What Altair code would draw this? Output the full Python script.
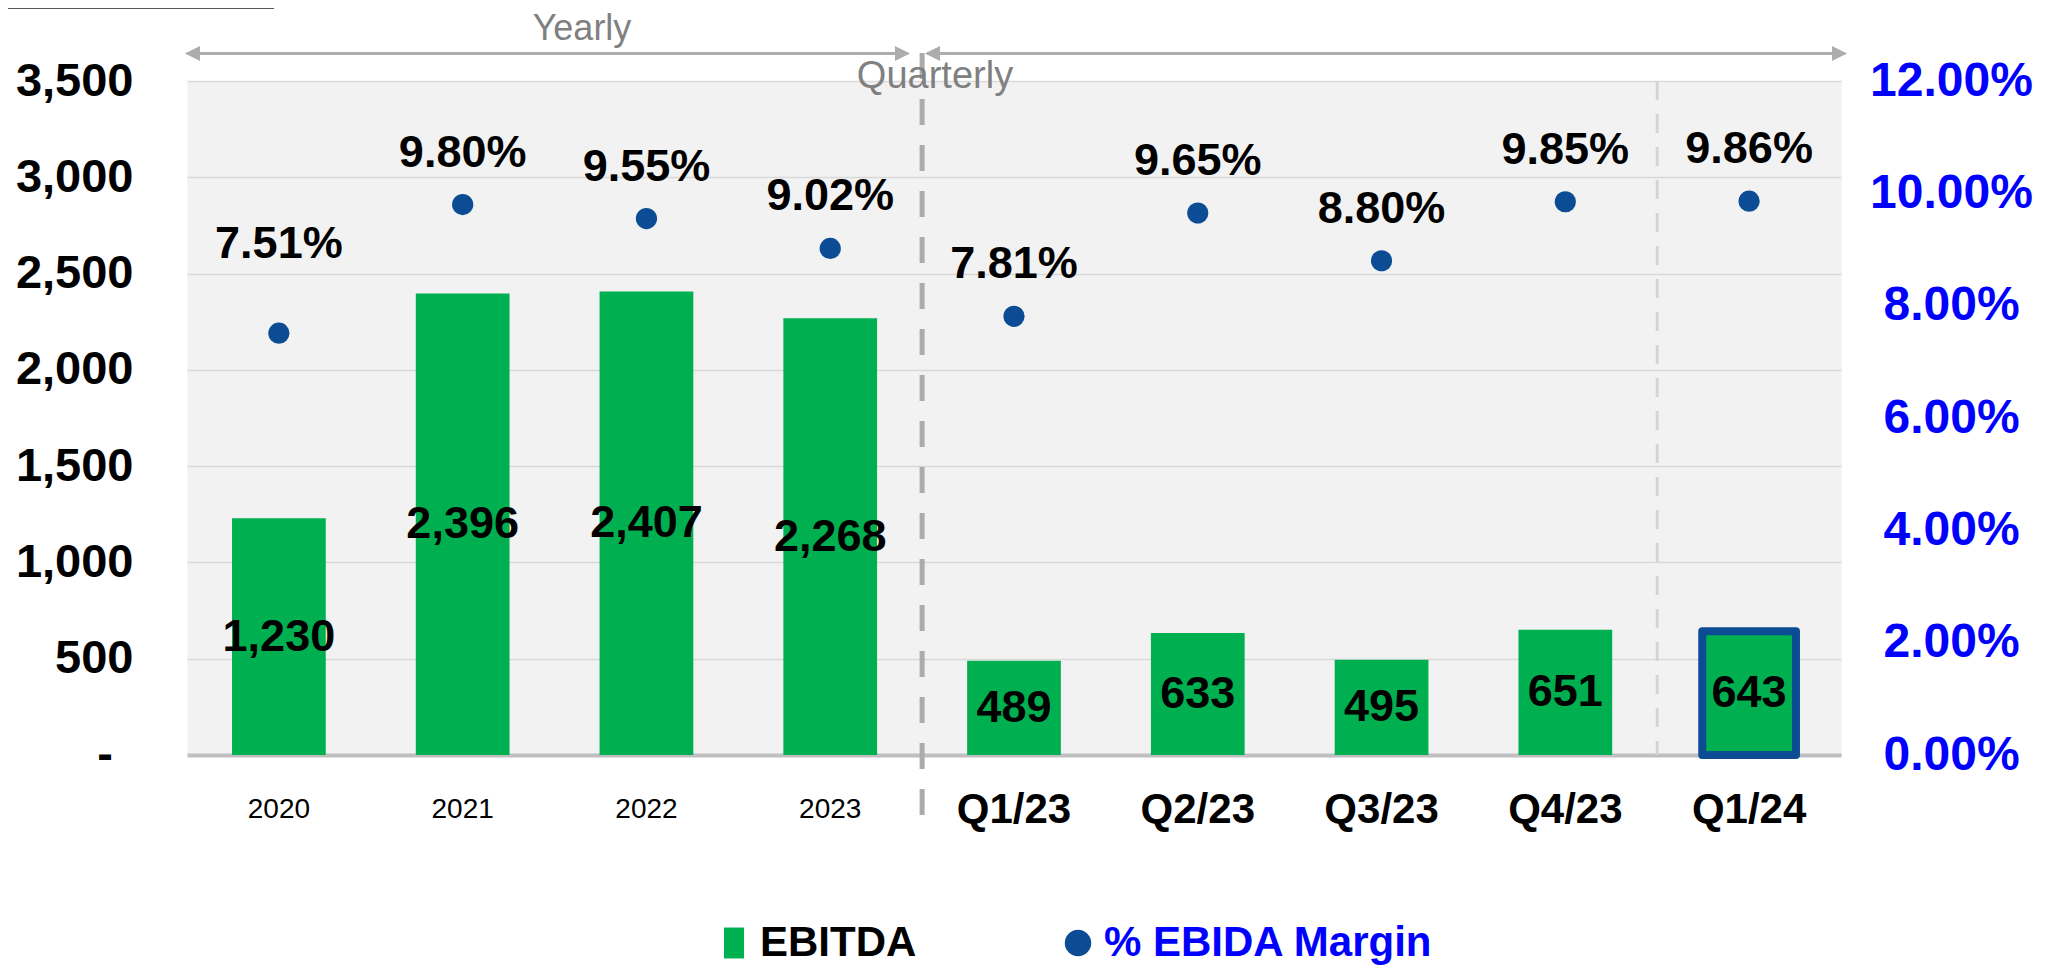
import altair as alt
import pandas as pd

# ---- data ----
categories = ["2020", "2021", "2022", "2023", "Q1/23", "Q2/23", "Q3/23", "Q4/23", "Q1/24"]
ebitda = [1230, 2396, 2407, 2268, 489, 633, 495, 651, 643]
margin_pct = [7.51, 9.80, 9.55, 9.02, 7.81, 9.65, 8.80, 9.85, 9.86]
left_ticks = [0, 500, 1000, 1500, 2000, 2500, 3000, 3500]
right_ticks_pct = [0, 2, 4, 6, 8, 10, 12]
zero_label = "-"
series_names = ["EBITDA", "% EBIDA Margin"]
series_colors = ["#00B050", "#0B4C94"]
period_names = ["Yearly", "Quarterly"]
first_quarter = "Q1/23"
highlight = "Q1/24"

df = pd.DataFrame({"category": categories, "ebitda": ebitda, "margin_pct": margin_pct})
one = pd.DataFrame({"k": [0]})

W, H = 1654, 674
FONT = "Liberation Sans"
GREY_ANN = "#ADADAD"

x_scale = alt.Scale(domain=categories, paddingInner=0, paddingOuter=0)
x_axis = alt.Axis(
    title=None, labelAngle=0, ticks=False, tickSize=0, grid=False,
    domainColor="#BFBFBF", domainWidth=4, labelFont=FONT, labelColor="#000000",
    labelPadding=54, labelBaseline="middle", labelOverlap=False,
    labelFontSize={"condition": {"test": "length(datum.value) == 4", "value": 28}, "value": 42},
    labelFontWeight={"condition": {"test": "length(datum.value) == 4", "value": "normal"}, "value": "bold"},
)
xenc = alt.X("category:N", scale=x_scale, axis=x_axis, sort=categories)

yl_scale = alt.Scale(domain=[0, 3500], nice=False)
yl_axis = alt.Axis(
    title=None, values=left_ticks,
    labelExpr="datum.value == 0 ? '' : format(datum.value, ',')",
    labelFont=FONT, labelFontSize=47, labelFontWeight="bold", labelColor="#000000",
    labelPadding=54, ticks=False, tickSize=0, domain=False,
    grid=True, gridColor="#D9D9D9", gridWidth=1.5,
)
yr_scale = alt.Scale(domain=[0, 0.12], nice=False)
yr_axis = alt.Axis(
    title=None, orient="right", values=[v / 100 for v in right_ticks_pct],
    labelExpr="format(datum.value, '.2%')",
    labelFont=FONT, labelFontSize=48, labelFontWeight="bold", labelColor="#0000FF",
    labelAlign="center", labelPadding=110, ticks=False, tickSize=0, domain=False, grid=False,
)

SQUARE_PATH = "M-0.76,-1.17H0.76V1.17H-0.76Z"
color_scale = alt.Scale(domain=series_names, range=series_colors)
legend = alt.Legend(
    title=None, orient="none", legendX=526, legendY=841, direction="horizontal",
    labelFont=FONT, labelFontSize=42, labelFontWeight="bold", labelLimit=1000,
    labelColor=alt.ExprRef(expr=f"datum.label === '{series_names[1]}' ? '#0000FF' : '#000000'"),
    symbolType=alt.ExprRef(expr=f"datum.value === '{series_names[0]}' ? '{SQUARE_PATH}' : 'circle'"),
    symbolSize=700, symbolStrokeWidth=0, columnPadding=140, labelOffset=5, padding=0,
)

base = alt.Chart(df)
yl_enc = alt.Y("ebitda:Q", scale=yl_scale, axis=yl_axis)

bars = base.transform_calculate(series=f"'{series_names[0]}'").mark_bar(
    width={"band": 0.51}
).encode(
    x=xenc, y=yl_enc,
    color=alt.Color("series:N", scale=color_scale, legend=legend),
)

hl_bar = base.transform_filter(f"datum.category == '{highlight}'").mark_bar(
    width={"band": 0.51}, fill=series_colors[0], stroke=series_colors[1],
    strokeWidth=8, strokeJoin="round",
).encode(x=xenc, y=yl_enc)

bar_labels = base.transform_calculate(half="datum.ebitda / 2").mark_text(
    font=FONT, fontSize=45, fontWeight="bold", color="#000000", baseline="middle"
).encode(
    x=xenc,
    y=alt.Y("half:Q", scale=yl_scale, axis=yl_axis),
    text=alt.Text("ebitda:Q", format=","),
)

# accounting-style "-" for the zero tick, sitting left of the number column
zero_tick = alt.Chart(one).mark_text(
    font=FONT, fontSize=47, fontWeight="bold", color="#000000", baseline="middle", align="center"
).encode(
    x=alt.value(-82),
    y=alt.Y(datum=left_ticks[0], type="quantitative", scale=yl_scale, axis=yl_axis),
    text=alt.value(zero_label),
)

# annotations: period arrows, separators
def hrule(x1, x2, y, color, width):
    return alt.Chart(one).mark_rule(color=color, strokeWidth=width).encode(
        x=alt.value(x1), x2=alt.value(x2), y=alt.value(y))

def head(x, y, shape):
    return alt.Chart(one).mark_point(filled=True, opacity=1, color=GREY_ANN, size=225,
                                     shape=shape, strokeWidth=0).encode(
        x=alt.value(x), y=alt.value(y))

RIGHT = "M0,0L-2,-1L-2,1Z"
LEFT = "M0,0L2,-1L2,1Z"
ay = -27.5
arrows = [
    hrule(0, 721, ay, GREY_ANN, 3), head(-2, ay, LEFT), head(723, ay, RIGHT),
    hrule(740, 1658, ay, GREY_ANN, 3), head(738, ay, LEFT), head(1660, ay, RIGHT),
]

top_line = hrule(-179, 87, -73, "#595959", 2)

yearly_txt = alt.Chart(one).mark_text(font=FONT, fontSize=36, color="#808080", baseline="middle").encode(
    x=alt.value(395), y=alt.value(-52), text=alt.value(period_names[0]))
quarterly_txt = alt.Chart(one).mark_text(font=FONT, fontSize=38, color="#808080", baseline="middle").encode(
    x=alt.value(748), y=alt.value(-4), text=alt.value(period_names[1]))

sep_thick = alt.Chart(one).mark_rule(color="#ABABAB", strokeWidth=5, strokeDash=[26, 20]).encode(
    x=alt.X(datum=first_quarter, type="nominal", bandPosition=0, scale=x_scale, axis=x_axis),
    y=alt.value(-28), y2=alt.value(754))
sep_thin = alt.Chart(one).mark_rule(color="#D4D4D4", strokeWidth=3, strokeDash=[19, 14]).encode(
    x=alt.X(datum=highlight, type="nominal", bandPosition=0, scale=x_scale, axis=x_axis),
    y=alt.value(0), y2=alt.value(H))

left = alt.layer(sep_thin, bars, hl_bar, bar_labels, zero_tick, sep_thick, *arrows, top_line,
                 yearly_txt, quarterly_txt)

pts_base = base.transform_calculate(m="datum.margin_pct / 100", series=f"'{series_names[1]}'")
yr_enc = alt.Y("m:Q", scale=yr_scale, axis=yr_axis)
points = pts_base.mark_point(filled=True, opacity=1, size=450, shape="circle", strokeWidth=0).encode(
    x=xenc, y=yr_enc,
    color=alt.Color("series:N", scale=color_scale, legend=legend),
)
pt_labels = pts_base.transform_filter(f"datum.category != '{categories[0]}'").mark_text(
    font=FONT, fontSize=45, fontWeight="bold", color="#000000", baseline="middle", dy=-52
).encode(x=xenc, y=yr_enc, text=alt.Text("m:Q", format=".2%"))
pt_label_first = pts_base.transform_filter(f"datum.category == '{categories[0]}'").mark_text(
    font=FONT, fontSize=45, fontWeight="bold", color="#000000", baseline="middle", dy=-89
).encode(x=xenc, y=yr_enc, text=alt.Text("m:Q", format=".2%"))

right = alt.layer(points, pt_labels, pt_label_first)

chart = alt.layer(left, right).resolve_scale(y="independent").properties(
    width=W, height=H,
    padding={"left": 179, "top": 73, "right": 196, "bottom": 212},
    autosize=alt.AutoSizeParams(type="none"),
).configure_view(fill="#F2F2F2", stroke="transparent")

chart.save("out.html", embed_options={"renderer": "svg", "actions": False})
